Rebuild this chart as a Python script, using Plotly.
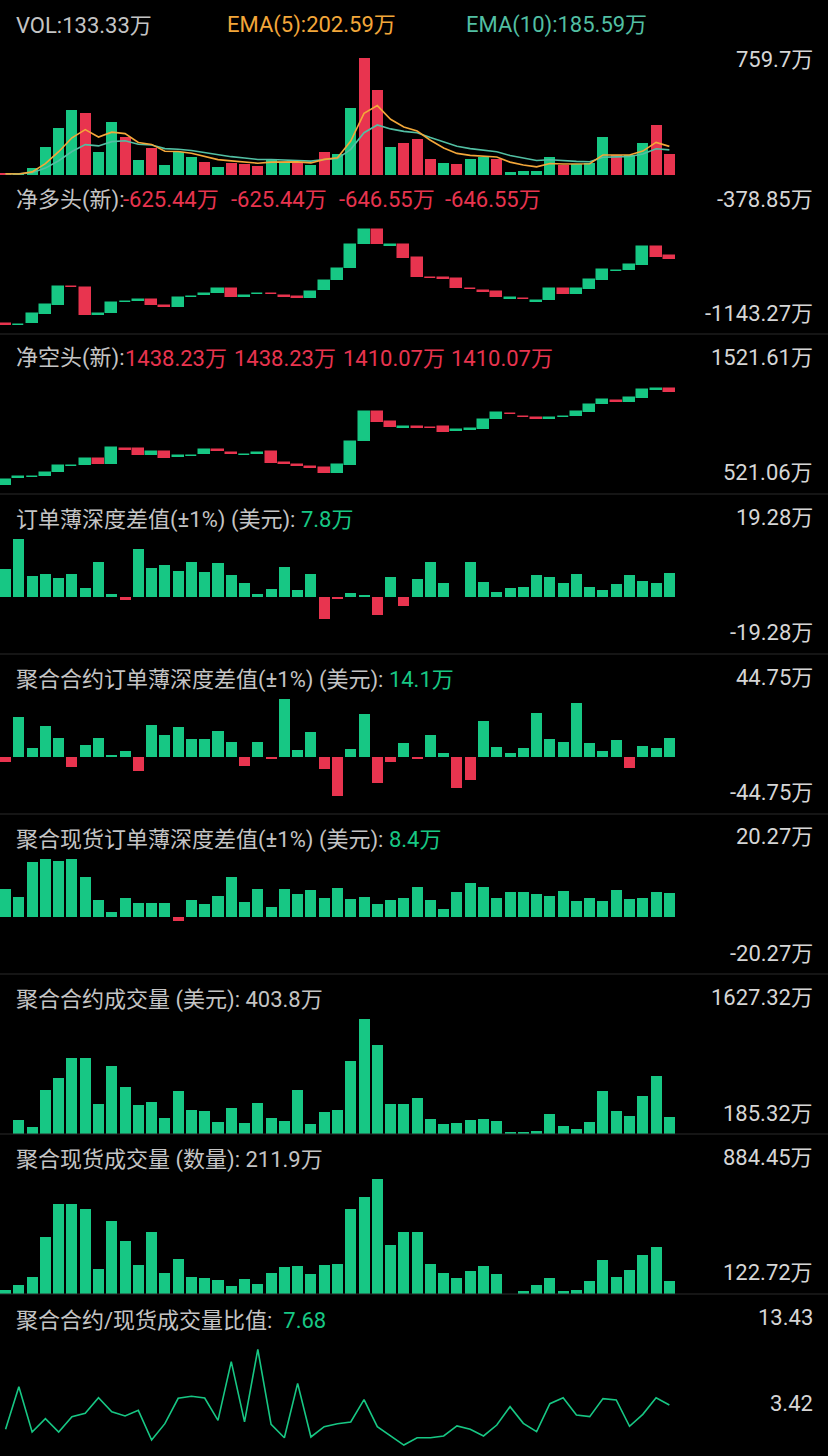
import plotly.graph_objects as go

W, H = 828, 1456
N = 51
idx = list(range(N))

# ---------------- data ----------------
vol = [8, 3, 48, 180, 307, 422, 400, 151, 342, 249, 97, 173, 65, 151, 119, 84, 54, 76, 69, 61,
       97, 87, 87, 65, 147, 134, 437, 759.7, 552, 184, 210, 234, 106, 76, 69, 102, 119, 102, 17, 28,
       28, 119, 65, 71, 76, 245, 130, 130, 206, 325, 133.33]
vol_up = [0, 1, 1, 1, 1, 1, 0, 1, 1, 0, 1, 0, 1, 1, 1, 0, 1, 0, 0, 0,
          1, 1, 0, 1, 0, 1, 1, 0, 0, 1, 0, 0, 0, 1, 0, 1, 1, 0, 1, 1,
          1, 1, 0, 1, 1, 1, 0, 1, 1, 0, 0]

long_open = [-1077, -1085, -1068, -1008, -950, -829, -835, -1014, -1002, -932,
             -921, -917, -960, -962, -899, -884, -869, -846, -894, -879,
             -875, -890, -900, -902, -853, -784, -706, -547, -452, -555,
             -554, -640, -769, -774, -780, -842, -860, -864, -908, -909,
             -930, -917, -846, -879, -842, -784, -726, -720, -685, -565, -625.44]
long_close = [-1081, -1081, -1012, -952, -829, -833, -1017, -1010, -935, -928,
              -917, -950, -964, -902, -895, -880, -846, -897, -890, -875,
              -879, -894, -904, -864, -791, -713, -552, -452, -547, -551,
              -636, -762, -773, -778, -835, -846, -864, -897, -904, -913,
              -926, -846, -879, -846, -786, -720, -722, -687, -565, -631, -646.55]

short_open = [599, 661, 667, 678, 712, 763, 773, 823, 785, 912,
              910, 860, 887, 844, 852, 866, 903, 874, 858, 873,
              884, 787, 773, 752, 745, 701, 773, 982, 1234, 1147,
              1096, 1100, 1099, 1104, 1073, 1079, 1089, 1171, 1217, 1191,
              1179, 1175, 1189, 1200, 1232, 1302, 1326, 1322, 1359, 1428, 1438.23]
short_close = [640, 665, 671, 701, 765, 767, 823, 779, 919, 908,
               860, 889, 837, 848, 856, 906, 899, 870, 862, 877,
               793, 783, 769, 748, 701, 771, 976, 1234, 1147, 1104,
               1100, 1096, 1095, 1063, 1077, 1083, 1167, 1223, 1213, 1187,
               1175, 1179, 1193, 1232, 1295, 1336, 1322, 1354, 1426, 1436, 1410.07]

depth_diff = [9.3, 19.28, 6.9, 7.6, 6.2, 7.5, 3.0, 11.5, 1.0, -1.1,
              15.8, 9.5, 10.6, 8.6, 11.6, 8.1, 11.4, 7.3, 4.6, 0.7,
              2.5, 9.9, 2.3, 7.6, -7.5, -0.8, 1.3, 0.4, -6.3, 6.6,
              -3.3, 6.0, 11.6, 4.6, 0.0, 11.6, 4.8, 1.5, 2.7, 3.2,
              7.1, 6.4, 4.6, 7.4, 3.1, 2.2, 4.2, 7.1, 5.2, 4.4, 7.8]
fut_depth_diff = [-4.6, 30.9, 6.4, 23.7, 14.4, -8.2, 8.7, 14.4, 0.8, 4.6,
                  -11.6, 24.9, 17.0, 22.9, 13.4, 13.4, 20.1, 11.3, -7.2, 11.6,
                  -1.8, 44.75, 4.9, 19.0, -9.5, -30.9, 5.7, 32.7, -20.6, -4.6,
                  10.8, -2.1, 17.0, 2.8, -24.9, -18.5, 27.8, 7.2, 2.8, 6.4,
                  33.7, 13.9, 11.1, 41.4, 10.8, 4.6, 12.9, -9.0, 8.5, 6.4, 14.1]
spot_depth_diff = [9.7, 6.9, 19.1, 20.27, 19.6, 20.1, 13.9, 5.7, 1.7, 6.5,
                   4.9, 4.9, 4.9, -1.7, 5.9, 4.3, 7.4, 14.1, 5.0, 9.7,
                   3.5, 9.8, 8.1, 9.5, 6.5, 10.0, 6.3, 6.8, 4.5, 5.8,
                   6.5, 10.5, 5.8, 2.8, 8.7, 11.7, 10.5, 6.4, 8.6, 8.6,
                   7.9, 7.1, 8.9, 5.4, 6.5, 5.3, 9.3, 6.1, 6.4, 8.5, 8.4]
fut_volume = [185.32, 360.9, 269.3, 733.3, 883.7, 1134.5, 1134.5, 557.7, 1041.7, 774.7,
              545.2, 582.8, 386.0, 720.7, 490.0, 470.0, 335.8, 507.6, 327.0, 577.8,
              389.7, 348.3, 737.0, 306.9, 461.2, 486.3, 1100.7, 1627.32, 1297.5, 557.7,
              557.7, 636.7, 373.4, 310.7, 327.0, 364.6, 368.0, 352.0, 206.6, 206.6,
              223.0, 440.0, 289.4, 251.8, 339.5, 720.7, 477.5, 411.0, 658.0, 912.6, 403.8]
spot_volume = [147.2, 182.3, 237.4, 500.3, 720.9, 716.7, 685.7, 286.3, 606.2, 475.8,
               312.8, 533.4, 263.8, 356.5, 235.3, 226.7, 217.4, 177.7, 220.1, 187.0,
               259.8, 299.6, 308.2, 255.2, 314.8, 319.4, 687.8, 767.2, 884.45, 447.3,
               531.4, 531.4, 321.4, 259.8, 230.7, 273.1, 308.2, 253.2, 122.72, 142.6,
               180.3, 228.7, 142.6, 151.2, 206.8, 345.9, 233.3, 283.7, 379.0, 432.0, 211.9]
vol_ratio = [5.57, 9.28, 5.33, 6.49, 5.33, 6.67, 6.96, 8.32, 7.10, 6.73,
             7.22, 4.64, 6.06, 8.27, 8.44, 8.29, 6.35, 11.46, 6.21, 12.53,
             6.00, 4.84, 9.57, 4.90, 5.80, 6.06, 6.21, 8.15, 5.80, 4.99,
             4.20, 4.84, 4.84, 4.99, 5.86, 5.57, 4.99, 5.94, 7.54, 6.09,
             5.36, 7.80, 8.32, 6.81, 6.67, 8.24, 8.12, 5.83, 6.87, 8.32, 7.68]

# axis extents shown as right-hand labels
vol_max = 759.7
long_rng = [-1143.27, -378.85]
short_rng = [521.06, 1521.61]
depth_rng = [-19.28, 19.28]
fut_depth_rng = [-44.75, 44.75]
spot_depth_rng = [-20.27, 20.27]
fut_vol_rng = [185.32, 1627.32]
spot_vol_rng = [122.72, 884.45]
ratio_rng = [3.42, 13.43]

# ---------------- style ----------------
GREEN = "#17C784"
RED = "#E8344F"
EMA5_C = "#F3A73A"
EMA10_C = "#52BFA3"
TXT = "#C4C4C4"
LBL = "#D6D6D6"
FONT = "Roboto, 'Noto Sans CJK SC', sans-serif"
FS = 22

def ema(vals, n):
    k = 2.0 / (n + 1)
    out, prev = [], None
    for v in vals:
        prev = v if prev is None else prev + k * (v - prev)
        out.append(prev)
    return out

def pdom(top_px, bot_px):
    return [1 - bot_px / H, 1 - top_px / H]

# panel plot areas in pixels (top, bottom)
panels = [(58, 175), (219, 334), (379, 494), (539, 654), (699, 814),
          (859, 974), (1019, 1134), (1179, 1294), (1339, 1454)]
ranges = [[0, vol_max], long_rng, short_rng, depth_rng, fut_depth_rng,
          spot_depth_rng, fut_vol_rng, spot_vol_rng, ratio_rng]
XDOM = [0, 676 / W]
XR = [-0.42, N - 0.5]
BW = 0.83

fig = go.Figure()

def ax(k):
    return ("x" if k == 1 else f"x{k}"), ("y" if k == 1 else f"y{k}")

# Panel 1: volume + EMA
xa, ya = ax(1)
fig.add_trace(go.Bar(x=idx, y=vol, width=BW, xaxis=xa, yaxis=ya,
                     marker=dict(color=[GREEN if u else RED for u in vol_up], line_width=0)))
fig.add_trace(go.Scatter(x=idx, y=ema(vol, 10), mode="lines", xaxis=xa, yaxis=ya,
                         line=dict(color=EMA10_C, width=1.6)))
fig.add_trace(go.Scatter(x=idx, y=ema(vol, 5), mode="lines", xaxis=xa, yaxis=ya,
                         line=dict(color=EMA5_C, width=1.6)))

# Panels 2,3: floating candle boxes
for k, (o, c) in [(2, (long_open, long_close)), (3, (short_open, short_close))]:
    xa, ya = ax(k)
    cols = [GREEN if cc >= oo else RED for oo, cc in zip(o, c)]
    fig.add_trace(go.Bar(x=idx, base=o, y=[cc - oo for oo, cc in zip(o, c)], width=BW,
                         xaxis=xa, yaxis=ya,
                         marker=dict(color=cols, line=dict(color=cols, width=1.5))))

# Panels 4-6: signed bars
for k, vals in [(4, depth_diff), (5, fut_depth_diff), (6, spot_depth_diff)]:
    xa, ya = ax(k)
    cols = [GREEN if v >= 0 else RED for v in vals]
    fig.add_trace(go.Bar(x=idx, y=vals, width=BW, xaxis=xa, yaxis=ya,
                         marker=dict(color=cols, line_width=0)))

# Panels 7,8: volumes
for k, vals in [(7, fut_volume), (8, spot_volume)]:
    xa, ya = ax(k)
    fig.add_trace(go.Bar(x=idx, y=vals, width=BW, xaxis=xa, yaxis=ya,
                         marker=dict(color=GREEN, line_width=0)))

# Panel 9: ratio line
xa, ya = ax(9)
fig.add_trace(go.Scatter(x=idx, y=vol_ratio, mode="lines", xaxis=xa, yaxis=ya,
                         line=dict(color=GREEN, width=1.6)))

layout = dict(width=W, height=H, margin=dict(l=0, r=0, t=0, b=0),
              paper_bgcolor="#000000", plot_bgcolor="#000000",
              showlegend=False, barmode="overlay", bargap=0)
for k in range(1, 10):
    xk = "xaxis" if k == 1 else f"xaxis{k}"
    yk = "yaxis" if k == 1 else f"yaxis{k}"
    xa, ya = ax(k)
    layout[xk] = dict(domain=XDOM, range=XR, visible=False, anchor=ya, fixedrange=True)
    layout[yk] = dict(domain=pdom(*panels[k - 1]), range=ranges[k - 1], visible=False,
                      anchor=xa, fixedrange=True)
fig.update_layout(**layout)

# separators
for sep in [334, 494, 654, 814, 974, 1134, 1294]:
    fig.add_shape(type="line", xref="paper", yref="paper", x0=0, x1=1,
                  y0=1 - sep / H, y1=1 - sep / H, line=dict(color="#2B2B2B", width=1))

def ann(text, x, y, color=TXT, xanchor="left", size=FS):
    fig.add_annotation(text=text, x=x / W, y=1 - y / H, xref="paper", yref="paper",
                       xanchor=xanchor, yanchor="middle", showarrow=False,
                       font=dict(family=FONT, size=size, color=color))

# headers
LX = 14
ann(f"VOL:{vol[-1]:.2f}万", LX, 25)
ann("EMA(5):202.59万", 225, 25, EMA5_C)
ann("EMA(10):185.59万", 464, 25, EMA10_C)

ann("净多头(新):", LX, 200)
for x, v in [(121, long_open[-1]), (229, long_open[-1]), (337, long_close[-1]), (443, long_close[-1])]:
    ann(f"{v:.2f}万", x, 200, RED)
ann("净空头(新):", LX, 358)
for x, v in [(123, short_open[-1]), (232, short_open[-1]), (341, short_close[-1]), (449, short_close[-1])]:
    ann(f"{v:.2f}万", x, 358, RED)

ann(f"订单薄深度差值(±1%) (美元): <span style='color:{GREEN}'>{depth_diff[-1]:.1f}万</span>", LX, 520)
ann(f"聚合合约订单薄深度差值(±1%) (美元): <span style='color:{GREEN}'>{fut_depth_diff[-1]:.1f}万</span>", LX, 680)
ann(f"聚合现货订单薄深度差值(±1%) (美元): <span style='color:{GREEN}'>{spot_depth_diff[-1]:.1f}万</span>", LX, 840)
ann(f"聚合合约成交量 (美元): {fut_volume[-1]:.1f}万", LX, 1000)
ann(f"聚合现货成交量 (数量): {spot_volume[-1]:.1f}万", LX, 1160)
ann(f"聚合合约/现货成交量比值:  <span style='color:{GREEN}'>{vol_ratio[-1]:.2f}</span>", LX, 1320)

# right-hand scale labels
RX = 815
right_labels = [
    (f"{vol_max}万", 60),
    (f"{long_rng[1]:.2f}万", 200), (f"{long_rng[0]:.2f}万", 313),
    (f"{short_rng[1]:.2f}万", 357), (f"{short_rng[0]:.2f}万", 473),
    (f"{depth_rng[1]:.2f}万", 517), (f"{depth_rng[0]:.2f}万", 632),
    (f"{fut_depth_rng[1]:.2f}万", 677), (f"{fut_depth_rng[0]:.2f}万", 793),
    (f"{spot_depth_rng[1]:.2f}万", 837), (f"{spot_depth_rng[0]:.2f}万", 953),
    (f"{fut_vol_rng[1]:.2f}万", 997), (f"{fut_vol_rng[0]:.2f}万", 1113),
    (f"{spot_vol_rng[1]:.2f}万", 1157), (f"{spot_vol_rng[0]:.2f}万", 1272),
    (f"{ratio_rng[1]:.2f}", 1317), (f"{ratio_rng[0]:.2f}", 1403),
]
for t, y in right_labels:
    ann(t, RX, y, LBL, xanchor="right")

fig.write_html("out.html", config={"displayModeBar": False},
               post_script="document.body.style.margin='0';document.body.style.background='#000';")
